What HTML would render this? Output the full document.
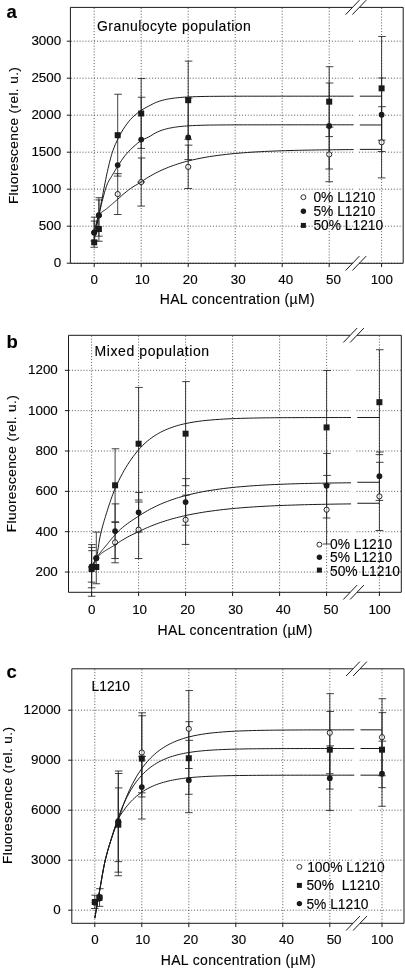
<!DOCTYPE html>
<html><head><meta charset="utf-8"><title>Figure</title>
<style>
html,body{margin:0;padding:0;background:#fff;}
body{width:405px;height:970px;overflow:hidden;}
svg{display:block;will-change:transform;font-family:"Liberation Sans",sans-serif;fill:#1a1a1a;}
text{fill:#000;stroke:#000;stroke-width:0.12px;}
.g{stroke:#444;stroke-width:0.9;stroke-dasharray:1 1.9;fill:none;}
.f{stroke:#1a1a1a;stroke-width:1;fill:none;}
.c{stroke:#1a1a1a;stroke-width:1;fill:none;}
.e{stroke:#222;stroke-width:0.85;fill:none;}
.t{font-size:13.4px;}
.l{font-size:14.0px;}
.k{font-size:13.8px;}
.y{font-size:13.6px;}
.p{font-size:18.5px;font-weight:bold;}
</style></head><body>
<svg width="405" height="970" viewBox="0 0 405 970">
<rect width="405" height="970" fill="#fff"/>
<g>
<path d="M70.90 263.20H353.50M359.00 263.20H402.70" class="g"/>
<path d="M70.90 226.20H353.50M359.00 226.20H402.70" class="g"/>
<path d="M70.90 189.20H353.50M359.00 189.20H402.70" class="g"/>
<path d="M70.90 152.20H353.50M359.00 152.20H402.70" class="g"/>
<path d="M70.90 115.20H353.50M359.00 115.20H402.70" class="g"/>
<path d="M70.90 78.20H353.50M359.00 78.20H402.70" class="g"/>
<path d="M70.90 41.20H353.50M359.00 41.20H402.70" class="g"/>
<path d="M94.20 7.90V262.80" class="g"/>
<path d="M141.20 7.90V262.80" class="g"/>
<path d="M188.20 7.90V262.80" class="g"/>
<path d="M235.20 7.90V262.80" class="g"/>
<path d="M282.20 7.90V262.80" class="g"/>
<path d="M329.20 7.90V262.80" class="g"/>
<path d="M381.60 7.90V262.80" class="g"/>
<path d="M352.50 7.40H70.40V263.30H352.50M359.30 7.40H403.20V263.30H359.30" class="f"/>
<path d="M66.80 263.20H70.40M66.80 226.20H70.40M66.80 189.20H70.40M66.80 152.20H70.40M66.80 115.20H70.40M66.80 78.20H70.40M66.80 41.20H70.40M94.20 263.30V267.10M141.20 263.30V267.10M188.20 263.30V267.10M235.20 263.30V267.10M282.20 263.30V267.10M329.20 263.30V267.10M381.60 263.30V267.10" class="f"/>
<path d="M345.60 14.60L359.40 0.20M352.40 14.60L366.20 0.20M345.60 270.50L359.40 256.10M352.40 270.50L366.20 256.10" class="f"/>
<path d="M94.20 217.17V247.29M90.80 217.17h7.6M90.40 247.29h7.6M94.20 221.09V241.00M90.80 221.09h7.6M90.40 241.00h7.6M98.90 197.71V236.19M95.50 197.71h7.6M95.10 236.19h7.6M98.90 199.93V241.22M95.50 199.93h7.6M95.10 241.22h7.6M117.70 94.26V176.10M114.30 94.26h7.6M113.90 176.10h7.6M117.70 173.66V214.51M114.30 173.66h7.6M113.90 214.51h7.6M141.20 78.57V148.43M137.80 78.57h7.6M137.40 148.43h7.6M141.20 97.22V182.02M137.80 97.22h7.6M137.40 182.02h7.6M141.20 157.97V206.07M137.80 157.97h7.6M137.40 206.07h7.6M188.20 61.11V139.25M184.80 61.11h7.6M184.40 139.25h7.6M188.20 145.17V188.53M184.80 145.17h7.6M184.40 188.53h7.6M188.20 98.11V159.60M184.80 98.11h7.6M184.40 159.60h7.6M329.20 66.73V136.59M325.80 66.73h7.6M325.40 136.59h7.6M329.20 83.01V169.00M325.80 83.01h7.6M325.40 169.00h7.6M329.20 127.11V181.73M325.80 127.11h7.6M325.40 181.73h7.6M381.60 36.46V140.21M378.20 36.46h7.6M377.80 140.21h7.6M381.60 77.98V151.53M378.20 77.98h7.6M377.80 151.53h7.6M381.60 106.69V177.88M378.20 106.69h7.6M377.80 177.88h7.6" class="e"/>
<circle cx="94.20" cy="232.71" r="2.6" fill="#fff" fill-opacity="0.6" stroke="#1a1a1a" stroke-width="0.95"/>
<circle cx="98.90" cy="215.47" r="2.6" fill="#fff" fill-opacity="0.6" stroke="#1a1a1a" stroke-width="0.95"/>
<circle cx="117.70" cy="194.08" r="2.6" fill="#fff" fill-opacity="0.6" stroke="#1a1a1a" stroke-width="0.95"/>
<circle cx="141.20" cy="182.02" r="2.6" fill="#fff" fill-opacity="0.6" stroke="#1a1a1a" stroke-width="0.95"/>
<circle cx="188.20" cy="166.85" r="2.6" fill="#fff" fill-opacity="0.6" stroke="#1a1a1a" stroke-width="0.95"/>
<circle cx="329.20" cy="154.42" r="2.6" fill="#fff" fill-opacity="0.6" stroke="#1a1a1a" stroke-width="0.95"/>
<circle cx="381.60" cy="142.28" r="2.6" fill="#fff" fill-opacity="0.6" stroke="#1a1a1a" stroke-width="0.95"/>
<path d="M94.20 241.00 L94.80 237.63 L95.41 234.28 L96.01 230.95 L96.61 227.63 L97.21 224.33 L97.82 221.05 L98.42 217.78 L99.02 214.52 L99.62 211.28 L100.23 208.05 L100.83 204.84 L101.43 201.66 L102.03 198.50 L102.64 195.38 L103.24 192.24 L103.84 189.09 L104.44 185.95 L105.05 182.84 L105.65 179.80 L106.25 176.84 L106.85 174.00 L107.46 171.30 L108.06 168.67 L108.66 166.09 L109.26 163.56 L109.87 161.11 L110.47 158.76 L111.07 156.54 L111.67 154.46 L112.28 152.54 L112.88 150.78 L113.48 149.12 L114.08 147.54 L114.69 146.05 L115.29 144.62 L115.89 143.25 L116.49 141.93 L117.10 140.65 L117.70 139.40 L119.51 135.82 L121.32 132.51 L123.12 129.47 L124.93 126.71 L126.74 124.15 L128.55 121.78 L130.35 119.63 L132.16 117.71 L133.97 116.00 L135.78 114.42 L137.58 112.97 L139.39 111.63 L141.20 110.39 L143.01 109.25 L144.82 108.20 L146.62 107.21 L148.43 106.25 L150.24 105.30 L152.05 104.33 L153.85 103.40 L155.66 102.58 L157.47 101.87 L159.28 101.24 L161.08 100.68 L162.89 100.18 L164.70 99.73 L166.51 99.34 L168.32 98.98 L170.12 98.68 L171.93 98.41 L173.74 98.17 L175.55 97.94 L177.35 97.74 L179.16 97.57 L180.97 97.42 L182.78 97.28 L184.58 97.15 L186.39 97.05 L188.20 96.95 L192.44 96.77 L196.68 96.62 L200.93 96.52 L205.17 96.44 L209.41 96.37 L213.65 96.33 L217.89 96.30 L222.14 96.27 L226.38 96.25 L230.62 96.23 L234.86 96.22 L239.10 96.21 L243.35 96.20 L247.59 96.20 L251.83 96.19 L256.07 96.19 L260.31 96.19 L264.56 96.19 L268.80 96.19 L273.04 96.19 L277.28 96.18 L281.53 96.18 L285.77 96.18 L290.01 96.18 L294.25 96.18 L298.49 96.18 L302.74 96.18 L306.98 96.18 L311.22 96.18 L315.46 96.18 L319.70 96.18 L323.95 96.18 L328.19 96.18 L332.43 96.18 L336.67 96.18 L340.91 96.18 L345.16 96.18 L349.40 96.18 L353.64 96.18M359.80 96.18H381.60" class="c"/>
<path d="M94.20 232.71 L94.80 230.61 L95.41 228.47 L96.01 226.28 L96.61 224.04 L97.21 221.76 L97.82 219.44 L98.42 217.08 L99.02 214.69 L99.62 212.16 L100.23 209.52 L100.83 206.84 L101.43 204.21 L102.03 201.70 L102.64 199.39 L103.24 197.14 L103.84 194.92 L104.44 192.74 L105.05 190.65 L105.65 188.67 L106.25 186.83 L106.85 185.16 L107.46 183.69 L108.06 182.39 L108.66 181.21 L109.26 180.13 L109.87 179.12 L110.47 178.16 L111.07 177.20 L111.67 176.25 L112.28 175.25 L112.88 174.22 L113.48 173.20 L114.08 172.18 L114.69 171.16 L115.29 170.15 L115.89 169.16 L116.49 168.17 L117.10 167.21 L117.70 166.26 L119.51 163.45 L121.32 160.71 L123.12 158.12 L124.93 155.77 L126.74 153.61 L128.55 151.60 L130.35 149.73 L132.16 147.98 L133.97 146.32 L135.78 144.72 L137.58 143.23 L139.39 141.86 L141.20 140.66 L143.01 139.64 L144.82 138.76 L146.62 137.94 L148.43 137.10 L150.24 136.15 L152.05 135.02 L153.85 133.85 L155.66 132.84 L157.47 131.97 L159.28 131.20 L161.08 130.51 L162.89 129.90 L164.70 129.35 L166.51 128.86 L168.32 128.42 L170.12 128.05 L171.93 127.71 L173.74 127.39 L175.55 127.11 L177.35 126.86 L179.16 126.64 L180.97 126.45 L182.78 126.27 L184.58 126.11 L186.39 125.97 L188.20 125.85 L192.44 125.61 L196.68 125.42 L200.93 125.28 L205.17 125.17 L209.41 125.09 L213.65 125.03 L217.89 124.99 L222.14 124.95 L226.38 124.91 L230.62 124.89 L234.86 124.87 L239.10 124.86 L243.35 124.85 L247.59 124.84 L251.83 124.84 L256.07 124.83 L260.31 124.83 L264.56 124.83 L268.80 124.83 L273.04 124.82 L277.28 124.82 L281.53 124.82 L285.77 124.82 L290.01 124.82 L294.25 124.82 L298.49 124.82 L302.74 124.82 L306.98 124.82 L311.22 124.82 L315.46 124.82 L319.70 124.82 L323.95 124.82 L328.19 124.82 L332.43 124.82 L336.67 124.82 L340.91 124.82 L345.16 124.82 L349.40 124.82 L353.64 124.82M359.80 124.97H381.60" class="c"/>
<path d="M94.20 232.71 L94.80 229.80 L95.41 226.95 L96.01 224.22 L96.61 221.70 L97.21 219.45 L97.82 217.53 L98.42 216.03 L99.02 215.00 L99.62 214.22 L100.23 213.53 L100.83 212.92 L101.43 212.39 L102.03 211.92 L102.64 211.49 L103.24 211.09 L103.84 210.70 L104.44 210.32 L105.05 209.92 L105.65 209.49 L106.25 209.02 L106.85 208.52 L107.46 208.01 L108.06 207.50 L108.66 206.99 L109.26 206.48 L109.87 205.97 L110.47 205.46 L111.07 204.95 L111.67 204.44 L112.28 203.93 L112.88 203.41 L113.48 202.90 L114.08 202.38 L114.69 201.87 L115.29 201.35 L115.89 200.83 L116.49 200.31 L117.10 199.79 L117.70 199.26 L119.51 197.65 L121.32 196.00 L123.12 194.39 L124.93 192.86 L126.74 191.42 L128.55 190.03 L130.35 188.70 L132.16 187.44 L133.97 186.28 L135.78 185.20 L137.58 184.15 L139.39 183.08 L141.20 181.95 L143.01 180.71 L144.82 179.43 L146.62 178.24 L148.43 177.12 L150.24 176.05 L152.05 175.02 L153.85 174.02 L155.66 173.07 L157.47 172.15 L159.28 171.27 L161.08 170.42 L162.89 169.60 L164.70 168.82 L166.51 168.06 L168.32 167.33 L170.12 166.65 L171.93 165.98 L173.74 165.33 L175.55 164.71 L177.35 164.11 L179.16 163.54 L180.97 162.99 L182.78 162.45 L184.58 161.94 L186.39 161.45 L188.20 160.99 L192.44 159.95 L196.68 159.01 L200.93 158.15 L205.17 157.35 L209.41 156.64 L213.65 156.01 L217.89 155.42 L222.14 154.88 L226.38 154.37 L230.62 153.91 L234.86 153.50 L239.10 153.13 L243.35 152.79 L247.59 152.47 L251.83 152.18 L256.07 151.92 L260.31 151.69 L264.56 151.48 L268.80 151.28 L273.04 151.10 L277.28 150.93 L281.53 150.78 L285.77 150.65 L290.01 150.53 L294.25 150.41 L298.49 150.31 L302.74 150.21 L306.98 150.13 L311.22 150.05 L315.46 149.98 L319.70 149.91 L323.95 149.85 L328.19 149.80 L332.43 149.75 L336.67 149.71 L340.91 149.66 L345.16 149.62 L349.40 149.59 L353.64 149.56M359.80 149.39H381.60" class="c"/>
<circle cx="94.20" cy="232.49" r="2.9" fill="#1a1a1a"/>
<circle cx="98.90" cy="215.17" r="2.9" fill="#1a1a1a"/>
<circle cx="117.70" cy="165.08" r="2.9" fill="#1a1a1a"/>
<circle cx="141.20" cy="139.62" r="2.9" fill="#1a1a1a"/>
<circle cx="188.20" cy="137.40" r="2.9" fill="#1a1a1a"/>
<circle cx="329.20" cy="126.00" r="2.9" fill="#1a1a1a"/>
<circle cx="381.60" cy="114.76" r="2.9" fill="#1a1a1a"/>
<rect x="91.20" y="239.33" width="6" height="6" fill="#1a1a1a"/>
<rect x="95.90" y="226.01" width="6" height="6" fill="#1a1a1a"/>
<rect x="114.70" y="132.18" width="6" height="6" fill="#1a1a1a"/>
<rect x="138.20" y="110.50" width="6" height="6" fill="#1a1a1a"/>
<rect x="185.20" y="97.18" width="6" height="6" fill="#1a1a1a"/>
<rect x="326.20" y="98.66" width="6" height="6" fill="#1a1a1a"/>
<rect x="378.60" y="85.34" width="6" height="6" fill="#1a1a1a"/>
<text x="61.20" y="267.30" text-anchor="end" class="t">0</text>
<text x="61.20" y="230.30" text-anchor="end" class="t">500</text>
<text x="61.20" y="193.30" text-anchor="end" class="t">1000</text>
<text x="61.20" y="156.30" text-anchor="end" class="t">1500</text>
<text x="61.20" y="119.30" text-anchor="end" class="t">2000</text>
<text x="61.20" y="82.30" text-anchor="end" class="t">2500</text>
<text x="61.20" y="45.30" text-anchor="end" class="t">3000</text>
<text x="94.30" y="283.50" text-anchor="middle" class="t">0</text>
<text x="142.20" y="283.50" text-anchor="middle" class="t">10</text>
<text x="190.20" y="283.50" text-anchor="middle" class="t">20</text>
<text x="238.20" y="283.50" text-anchor="middle" class="t">30</text>
<text x="285.80" y="283.50" text-anchor="middle" class="t">40</text>
<text x="333.50" y="283.50" text-anchor="middle" class="t">50</text>
<text x="381.80" y="283.50" text-anchor="middle" class="t">100</text>
<text x="159.70" y="304.20" textLength="155" class="l">HAL concentration (µM)</text>
<text transform="translate(18.00 204.10) rotate(-90)" textLength="137" class="y">Fluorescence (rel. u.)</text>
<text x="6.4" y="17.9" class="p">a</text>
<text x="96.9" y="31.1" textLength="154" class="l">Granulocyte population</text>
<circle cx="303.40" cy="197.20" r="2.45" fill="#fff" stroke="#1a1a1a" stroke-width="0.9"/>
<text x="313.40" y="201.80" class="k">0% L1210</text>
<circle cx="303.40" cy="211.20" r="2.7" fill="#1a1a1a"/>
<text x="313.40" y="215.80" class="k">5% L1210</text>
<rect x="300.90" y="222.90" width="5" height="5" fill="#1a1a1a"/>
<text x="313.40" y="229.90" class="k">50% L1210</text>
</g>
<g>
<path d="M69.00 572.05H350.50M356.50 572.05H400.80" class="g"/>
<path d="M69.00 531.70H350.50M356.50 531.70H400.80" class="g"/>
<path d="M69.00 491.35H350.50M356.50 491.35H400.80" class="g"/>
<path d="M69.00 451.00H350.50M356.50 451.00H400.80" class="g"/>
<path d="M69.00 410.65H350.50M356.50 410.65H400.80" class="g"/>
<path d="M69.00 370.30H350.50M356.50 370.30H400.80" class="g"/>
<path d="M91.60 335.80V591.80" class="g"/>
<path d="M138.60 335.80V591.80" class="g"/>
<path d="M185.60 335.80V591.80" class="g"/>
<path d="M232.60 335.80V591.80" class="g"/>
<path d="M279.60 335.80V591.80" class="g"/>
<path d="M326.60 335.80V591.80" class="g"/>
<path d="M379.40 335.80V591.80" class="g"/>
<path d="M350.20 335.30H68.50V592.30H350.20M357.00 335.30H401.30V592.30H357.00" class="f"/>
<path d="M64.90 572.05H68.50M64.90 531.70H68.50M64.90 491.35H68.50M64.90 451.00H68.50M64.90 410.65H68.50M64.90 370.30H68.50M91.60 592.30V596.10M138.60 592.30V596.10M185.60 592.30V596.10M232.60 592.30V596.10M279.60 592.30V596.10M326.60 592.30V596.10M379.40 592.30V596.10" class="f"/>
<path d="M343.30 342.50L357.10 328.10M350.10 342.50L363.90 328.10M343.30 599.50L357.10 585.10M350.10 599.50L363.90 585.10" class="f"/>
<path d="M91.60 544.61V587.79M88.20 544.61h7.6M87.80 587.79h7.6M91.60 547.44V596.26M88.20 547.44h7.6M87.80 596.26h7.6M91.60 550.66V582.14M88.20 550.66h7.6M87.80 582.14h7.6M96.30 532.10V583.75M92.90 532.10h7.6M92.50 583.75h7.6M115.10 448.78V521.81M111.70 448.78h7.6M111.30 521.81h7.6M115.10 503.86V558.53M111.70 503.86h7.6M111.30 558.53h7.6M115.10 522.42V562.77M111.70 522.42h7.6M111.30 562.77h7.6M138.60 387.45V500.03M135.20 387.45h7.6M134.80 500.03h7.6M138.60 492.56V532.10M135.20 492.56h7.6M134.80 532.10h7.6M138.60 502.04V558.53M135.20 502.04h7.6M134.80 558.53h7.6M185.60 381.60V485.70M182.20 381.60h7.6M181.80 485.70h7.6M185.60 478.64V525.24M182.20 478.64h7.6M181.80 525.24h7.6M185.60 495.18V544.41M182.20 495.18h7.6M181.80 544.41h7.6M326.60 370.50V484.29M323.20 370.50h7.6M322.80 484.29h7.6M326.60 453.42V517.98M323.20 453.42h7.6M322.80 517.98h7.6M326.60 475.41V544.01M323.20 475.41h7.6M322.80 544.01h7.6M379.40 349.72V454.63M376.00 349.72h7.6M375.60 454.63h7.6M379.40 452.01V500.43M376.00 452.01h7.6M375.60 500.43h7.6M379.40 462.30V530.49M376.00 462.30h7.6M375.60 530.49h7.6" class="e"/>
<circle cx="91.60" cy="567.01" r="2.6" fill="#fff" fill-opacity="0.6" stroke="#1a1a1a" stroke-width="0.95"/>
<circle cx="96.30" cy="557.93" r="2.6" fill="#fff" fill-opacity="0.6" stroke="#1a1a1a" stroke-width="0.95"/>
<circle cx="115.10" cy="542.39" r="2.6" fill="#fff" fill-opacity="0.6" stroke="#1a1a1a" stroke-width="0.95"/>
<circle cx="138.60" cy="529.68" r="2.6" fill="#fff" fill-opacity="0.6" stroke="#1a1a1a" stroke-width="0.95"/>
<circle cx="185.60" cy="519.80" r="2.6" fill="#fff" fill-opacity="0.6" stroke="#1a1a1a" stroke-width="0.95"/>
<circle cx="326.60" cy="509.71" r="2.6" fill="#fff" fill-opacity="0.6" stroke="#1a1a1a" stroke-width="0.95"/>
<circle cx="379.40" cy="496.39" r="2.6" fill="#fff" fill-opacity="0.6" stroke="#1a1a1a" stroke-width="0.95"/>
<path d="M91.60 569.02 L92.20 568.61 L92.81 567.82 L93.41 566.69 L94.01 565.28 L94.61 563.65 L95.22 561.84 L95.82 559.92 L96.42 557.91 L97.02 555.17 L97.63 551.67 L98.23 547.73 L98.83 543.72 L99.43 539.97 L100.04 536.84 L100.64 534.17 L101.24 531.63 L101.84 529.22 L102.45 526.91 L103.05 524.69 L103.65 522.55 L104.25 520.48 L104.86 518.47 L105.46 516.50 L106.06 514.56 L106.66 512.64 L107.27 510.72 L107.87 508.81 L108.47 506.93 L109.07 505.08 L109.68 503.26 L110.28 501.46 L110.88 499.70 L111.48 497.98 L112.09 496.30 L112.69 494.65 L113.29 493.05 L113.89 491.49 L114.50 489.99 L115.10 488.53 L116.91 484.42 L118.72 480.64 L120.52 477.10 L122.33 473.71 L124.14 470.45 L125.95 467.35 L127.75 464.42 L129.56 461.67 L131.37 459.07 L133.18 456.58 L134.98 454.21 L136.79 451.94 L138.60 449.79 L140.41 447.77 L142.22 445.89 L144.02 444.12 L145.83 442.46 L147.64 440.90 L149.45 439.45 L151.25 438.08 L153.06 436.80 L154.87 435.59 L156.68 434.47 L158.48 433.41 L160.29 432.42 L162.10 431.49 L163.91 430.61 L165.72 429.79 L167.52 429.04 L169.33 428.33 L171.14 427.65 L172.95 427.01 L174.75 426.42 L176.56 425.86 L178.37 425.34 L180.18 424.85 L181.98 424.39 L183.79 423.96 L185.60 423.56 L189.84 422.72 L194.08 421.98 L198.33 421.36 L202.57 420.81 L206.81 420.34 L211.05 419.97 L215.29 419.64 L219.54 419.34 L223.78 419.07 L228.02 418.84 L232.26 418.66 L236.50 418.50 L240.75 418.36 L244.99 418.24 L249.23 418.14 L253.47 418.05 L257.71 417.97 L261.96 417.91 L266.20 417.85 L270.44 417.80 L274.68 417.76 L278.93 417.73 L283.17 417.70 L287.41 417.67 L291.65 417.65 L295.89 417.63 L300.14 417.61 L304.38 417.60 L308.62 417.59 L312.86 417.57 L317.10 417.57 L321.35 417.56 L325.59 417.55 L329.83 417.55 L334.07 417.54 L338.31 417.54 L342.56 417.53 L346.80 417.53 L351.04 417.53M357.30 417.51H379.40" class="c"/>
<path d="M91.60 568.02 L92.20 566.64 L92.81 565.28 L93.41 563.95 L94.01 562.66 L94.61 561.43 L95.22 560.25 L95.82 559.15 L96.42 558.13 L97.02 557.17 L97.63 556.25 L98.23 555.37 L98.83 554.52 L99.43 553.69 L100.04 552.89 L100.64 552.12 L101.24 551.36 L101.84 550.62 L102.45 549.89 L103.05 549.17 L103.65 548.46 L104.25 547.75 L104.86 547.04 L105.46 546.32 L106.06 545.60 L106.66 544.87 L107.27 544.13 L107.87 543.38 L108.47 542.63 L109.07 541.88 L109.68 541.12 L110.28 540.38 L110.88 539.64 L111.48 538.90 L112.09 538.18 L112.69 537.46 L113.29 536.75 L113.89 536.06 L114.50 535.39 L115.10 534.73 L116.91 532.81 L118.72 530.98 L120.52 529.27 L122.33 527.67 L124.14 526.18 L125.95 524.78 L127.75 523.43 L129.56 522.13 L131.37 520.88 L133.18 519.68 L134.98 518.50 L136.79 517.34 L138.60 516.17 L140.41 514.98 L142.22 513.82 L144.02 512.70 L145.83 511.63 L147.64 510.59 L149.45 509.59 L151.25 508.63 L153.06 507.69 L154.87 506.80 L156.68 505.93 L158.48 505.10 L160.29 504.29 L162.10 503.51 L163.91 502.76 L165.72 502.03 L167.52 501.35 L169.33 500.68 L171.14 500.03 L172.95 499.40 L174.75 498.79 L176.56 498.20 L178.37 497.64 L180.18 497.10 L181.98 496.57 L183.79 496.07 L185.60 495.58 L189.84 494.51 L194.08 493.52 L198.33 492.61 L202.57 491.76 L206.81 490.99 L211.05 490.31 L215.29 489.67 L219.54 489.07 L223.78 488.51 L228.02 488.00 L232.26 487.53 L236.50 487.11 L240.75 486.72 L244.99 486.36 L249.23 486.03 L253.47 485.72 L257.71 485.45 L261.96 485.19 L266.20 484.95 L270.44 484.73 L274.68 484.53 L278.93 484.35 L283.17 484.19 L287.41 484.03 L291.65 483.89 L295.89 483.76 L300.14 483.64 L304.38 483.53 L308.62 483.43 L312.86 483.33 L317.10 483.25 L321.35 483.17 L325.59 483.09 L329.83 483.03 L334.07 482.97 L338.31 482.91 L342.56 482.86 L346.80 482.81 L351.04 482.77M357.30 482.27H379.40" class="c"/>
<path d="M91.60 567.61 L92.20 566.25 L92.81 564.88 L93.41 563.52 L94.01 562.22 L94.61 561.00 L95.22 559.90 L95.82 558.96 L96.42 558.19 L97.02 557.51 L97.63 556.87 L98.23 556.25 L98.83 555.66 L99.43 555.09 L100.04 554.56 L100.64 554.04 L101.24 553.55 L101.84 553.07 L102.45 552.62 L103.05 552.18 L103.65 551.76 L104.25 551.36 L104.86 550.96 L105.46 550.58 L106.06 550.21 L106.66 549.84 L107.27 549.49 L107.87 549.14 L108.47 548.79 L109.07 548.45 L109.68 548.10 L110.28 547.76 L110.88 547.41 L111.48 547.06 L112.09 546.71 L112.69 546.35 L113.29 545.98 L113.89 545.60 L114.50 545.21 L115.10 544.81 L116.91 543.60 L118.72 542.42 L120.52 541.27 L122.33 540.15 L124.14 539.05 L125.95 537.97 L127.75 536.94 L129.56 535.98 L131.37 535.08 L133.18 534.22 L134.98 533.39 L136.79 532.55 L138.60 531.70 L140.41 530.81 L142.22 529.93 L144.02 529.08 L145.83 528.26 L147.64 527.46 L149.45 526.70 L151.25 525.95 L153.06 525.23 L154.87 524.54 L156.68 523.86 L158.48 523.21 L160.29 522.57 L162.10 521.96 L163.91 521.37 L165.72 520.79 L167.52 520.24 L169.33 519.70 L171.14 519.18 L172.95 518.67 L174.75 518.18 L176.56 517.71 L178.37 517.25 L180.18 516.80 L181.98 516.37 L183.79 515.96 L185.60 515.56 L189.84 514.66 L194.08 513.83 L198.33 513.06 L202.57 512.34 L206.81 511.67 L211.05 511.08 L215.29 510.52 L219.54 509.98 L223.78 509.49 L228.02 509.03 L232.26 508.61 L236.50 508.22 L240.75 507.86 L244.99 507.52 L249.23 507.21 L253.47 506.92 L257.71 506.65 L261.96 506.41 L266.20 506.18 L270.44 505.96 L274.68 505.76 L278.93 505.58 L283.17 505.41 L287.41 505.26 L291.65 505.11 L295.89 504.97 L300.14 504.85 L304.38 504.73 L308.62 504.63 L312.86 504.53 L317.10 504.43 L321.35 504.35 L325.59 504.27 L329.83 504.19 L334.07 504.12 L338.31 504.06 L342.56 504.00 L346.80 503.94 L351.04 503.90M357.30 503.25H379.40" class="c"/>
<circle cx="91.60" cy="566.40" r="2.9" fill="#1a1a1a"/>
<circle cx="96.30" cy="558.33" r="2.9" fill="#1a1a1a"/>
<circle cx="115.10" cy="531.09" r="2.9" fill="#1a1a1a"/>
<circle cx="138.60" cy="512.33" r="2.9" fill="#1a1a1a"/>
<circle cx="185.60" cy="502.04" r="2.9" fill="#1a1a1a"/>
<circle cx="326.60" cy="485.70" r="2.9" fill="#1a1a1a"/>
<circle cx="379.40" cy="476.22" r="2.9" fill="#1a1a1a"/>
<rect x="88.60" y="566.02" width="6" height="6" fill="#1a1a1a"/>
<rect x="93.30" y="564.01" width="6" height="6" fill="#1a1a1a"/>
<rect x="112.10" y="482.30" width="6" height="6" fill="#1a1a1a"/>
<rect x="135.60" y="440.74" width="6" height="6" fill="#1a1a1a"/>
<rect x="182.60" y="430.65" width="6" height="6" fill="#1a1a1a"/>
<rect x="323.60" y="424.40" width="6" height="6" fill="#1a1a1a"/>
<rect x="376.40" y="399.18" width="6" height="6" fill="#1a1a1a"/>
<text x="57.80" y="576.15" text-anchor="end" class="t">200</text>
<text x="57.80" y="535.80" text-anchor="end" class="t">400</text>
<text x="57.80" y="495.45" text-anchor="end" class="t">600</text>
<text x="57.80" y="455.10" text-anchor="end" class="t">800</text>
<text x="57.80" y="414.75" text-anchor="end" class="t">1000</text>
<text x="57.80" y="374.40" text-anchor="end" class="t">1200</text>
<text x="91.70" y="613.70" text-anchor="middle" class="t">0</text>
<text x="139.60" y="613.70" text-anchor="middle" class="t">10</text>
<text x="187.60" y="613.70" text-anchor="middle" class="t">20</text>
<text x="235.60" y="613.70" text-anchor="middle" class="t">30</text>
<text x="283.20" y="613.70" text-anchor="middle" class="t">40</text>
<text x="330.90" y="613.70" text-anchor="middle" class="t">50</text>
<text x="379.60" y="613.70" text-anchor="middle" class="t">100</text>
<text x="157.50" y="634.50" textLength="155" class="l">HAL concentration (µM)</text>
<text transform="translate(16.30 532.20) rotate(-90)" textLength="137" class="y">Fluorescence (rel. u.)</text>
<text x="6.4" y="348.1" class="p">b</text>
<text x="94.6" y="356.3" textLength="114.5" class="l">Mixed population</text>
<circle cx="319.40" cy="544.60" r="2.45" fill="#fff" stroke="#1a1a1a" stroke-width="0.9"/>
<text x="330.00" y="549.20" class="k">0% L1210</text>
<circle cx="319.40" cy="557.20" r="2.7" fill="#1a1a1a"/>
<text x="330.00" y="562.20" class="k">5% L1210</text>
<rect x="316.90" y="567.60" width="5" height="5" fill="#1a1a1a"/>
<text x="330.00" y="575.50" class="k">50% L1210</text>
</g>
<g>
<path d="M72.30 910.20H353.70M359.70 910.20H403.50" class="g"/>
<path d="M72.30 860.20H353.70M359.70 860.20H403.50" class="g"/>
<path d="M72.30 810.20H353.70M359.70 810.20H403.50" class="g"/>
<path d="M72.30 760.20H353.70M359.70 760.20H403.50" class="g"/>
<path d="M72.30 710.20H353.70M359.70 710.20H403.50" class="g"/>
<path d="M94.80 669.30V922.80" class="g"/>
<path d="M141.80 669.30V922.80" class="g"/>
<path d="M188.80 669.30V922.80" class="g"/>
<path d="M235.80 669.30V922.80" class="g"/>
<path d="M282.80 669.30V922.80" class="g"/>
<path d="M329.80 669.30V922.80" class="g"/>
<path d="M382.00 669.30V922.80" class="g"/>
<path d="M353.00 668.80H71.80V923.30H353.00M360.00 668.80H404.00V923.30H360.00" class="f"/>
<path d="M68.20 910.20H71.80M68.20 860.20H71.80M68.20 810.20H71.80M68.20 760.20H71.80M68.20 710.20H71.80M94.80 923.30V927.10M141.80 923.30V927.10M188.80 923.30V927.10M235.80 923.30V927.10M282.80 923.30V927.10M329.80 923.30V927.10M382.00 923.30V927.10" class="f"/>
<path d="M346.10 676.00L359.90 661.60M353.10 676.00L366.90 661.60M346.10 930.50L359.90 916.10M353.10 930.50L366.90 916.10" class="f"/>
<path d="M94.80 895.20V908.53M91.40 895.20h7.6M91.00 908.53h7.6M99.50 888.72V906.37M96.10 888.72h7.6M95.70 906.37h7.6M118.30 771.00V875.75M114.90 771.00h7.6M114.50 875.75h7.6M118.30 773.53V872.18M114.90 773.53h7.6M114.50 872.18h7.6M118.30 787.90V861.62M114.90 787.90h7.6M114.50 861.62h7.6M141.80 712.80V792.80M138.40 712.80h7.6M138.00 792.80h7.6M141.80 715.75V796.93M138.40 715.75h7.6M138.00 796.93h7.6M141.80 756.37V819.02M138.40 756.37h7.6M138.00 819.02h7.6M188.80 690.57V768.50M185.40 690.57h7.6M185.00 768.50h7.6M188.80 721.68V794.27M185.40 721.68h7.6M185.00 794.27h7.6M188.80 740.35V812.65M185.40 740.35h7.6M185.00 812.65h7.6M329.80 693.68V773.70M326.40 693.68h7.6M326.00 773.70h7.6M329.80 711.47V789.08M326.40 711.47h7.6M326.00 789.08h7.6M329.80 745.85V810.42M326.40 745.85h7.6M326.00 810.42h7.6M382.00 698.72V775.75M378.60 698.72h7.6M378.20 775.75h7.6M382.00 712.65V787.60M378.60 712.65h7.6M378.20 787.60h7.6M382.00 741.13V806.27M378.60 741.13h7.6M378.20 806.27h7.6" class="e"/>
<circle cx="94.80" cy="902.70" r="2.6" fill="#fff" fill-opacity="0.6" stroke="#1a1a1a" stroke-width="0.95"/>
<circle cx="99.50" cy="896.87" r="2.6" fill="#fff" fill-opacity="0.6" stroke="#1a1a1a" stroke-width="0.95"/>
<circle cx="118.30" cy="821.87" r="2.6" fill="#fff" fill-opacity="0.6" stroke="#1a1a1a" stroke-width="0.95"/>
<circle cx="141.80" cy="752.52" r="2.6" fill="#fff" fill-opacity="0.6" stroke="#1a1a1a" stroke-width="0.95"/>
<circle cx="188.80" cy="728.83" r="2.6" fill="#fff" fill-opacity="0.6" stroke="#1a1a1a" stroke-width="0.95"/>
<circle cx="329.80" cy="732.80" r="2.6" fill="#fff" fill-opacity="0.6" stroke="#1a1a1a" stroke-width="0.95"/>
<circle cx="382.00" cy="737.23" r="2.6" fill="#fff" fill-opacity="0.6" stroke="#1a1a1a" stroke-width="0.95"/>
<path d="M94.80 918.10 L95.40 914.61 L96.01 911.14 L96.61 907.69 L97.21 904.25 L97.81 900.83 L98.42 897.43 L99.02 894.06 L99.62 890.69 L100.22 887.27 L100.83 883.78 L101.43 880.27 L102.03 876.78 L102.63 873.36 L103.24 870.03 L103.84 866.86 L104.44 863.87 L105.04 861.12 L105.65 858.58 L106.25 856.15 L106.85 853.83 L107.45 851.60 L108.06 849.45 L108.66 847.38 L109.26 845.37 L109.86 843.42 L110.47 841.52 L111.07 839.65 L111.67 837.81 L112.27 836.00 L112.88 834.28 L113.48 832.62 L114.08 831.02 L114.68 829.46 L115.29 827.91 L115.89 826.38 L116.49 824.83 L117.09 823.25 L117.70 821.64 L118.30 819.97 L120.11 814.57 L121.92 809.05 L123.72 803.99 L125.53 799.32 L127.34 794.94 L129.15 790.85 L130.95 787.00 L132.76 783.41 L134.57 780.03 L136.38 776.87 L138.18 773.91 L139.99 771.13 L141.80 768.53 L143.61 766.10 L145.42 763.81 L147.22 761.67 L149.03 759.67 L150.84 757.79 L152.65 756.03 L154.45 754.38 L156.26 752.84 L158.07 751.39 L159.88 750.03 L161.68 748.76 L163.49 747.57 L165.30 746.45 L167.11 745.40 L168.92 744.41 L170.72 743.51 L172.53 742.66 L174.34 741.85 L176.15 741.09 L177.95 740.37 L179.76 739.71 L181.57 739.09 L183.38 738.50 L185.18 737.95 L186.99 737.44 L188.80 736.97 L193.04 735.96 L197.28 735.09 L201.53 734.35 L205.77 733.70 L210.01 733.15 L214.25 732.71 L218.49 732.31 L222.74 731.96 L226.98 731.65 L231.22 731.38 L235.46 731.16 L239.70 730.98 L243.95 730.82 L248.19 730.68 L252.43 730.56 L256.67 730.45 L260.91 730.37 L265.16 730.29 L269.40 730.23 L273.64 730.17 L277.88 730.12 L282.13 730.08 L286.37 730.05 L290.61 730.02 L294.85 729.99 L299.09 729.97 L303.34 729.95 L307.58 729.93 L311.82 729.92 L316.06 729.91 L320.30 729.90 L324.55 729.89 L328.79 729.88 L333.03 729.87 L337.27 729.87 L341.51 729.86 L345.76 729.86 L350.00 729.85 L354.24 729.85M360.50 729.83H382.00" class="c"/>
<path d="M94.80 918.10 L95.40 914.61 L96.01 911.14 L96.61 907.69 L97.21 904.25 L97.81 900.83 L98.42 897.43 L99.02 894.06 L99.62 890.69 L100.22 887.27 L100.83 883.78 L101.43 880.27 L102.03 876.78 L102.63 873.36 L103.24 870.03 L103.84 866.86 L104.44 863.87 L105.04 861.12 L105.65 858.58 L106.25 856.19 L106.85 853.91 L107.45 851.72 L108.06 849.63 L108.66 847.60 L109.26 845.61 L109.86 843.66 L110.47 841.73 L111.07 839.80 L111.67 837.85 L112.27 835.88 L112.88 833.92 L113.48 831.97 L114.08 830.03 L114.68 828.12 L115.29 826.23 L115.89 824.38 L116.49 822.56 L117.09 820.77 L117.70 819.03 L118.30 817.34 L120.11 812.51 L121.92 808.00 L123.72 803.83 L125.53 799.94 L127.34 796.32 L129.15 792.97 L130.95 789.84 L132.76 786.94 L134.57 784.23 L136.38 781.72 L138.18 779.39 L139.99 777.22 L141.80 775.20 L143.61 773.32 L145.42 771.58 L147.22 769.96 L149.03 768.45 L150.84 767.05 L152.65 765.75 L154.45 764.53 L156.26 763.41 L158.07 762.36 L159.88 761.38 L161.68 760.48 L163.49 759.64 L165.30 758.86 L167.11 758.12 L168.92 757.44 L170.72 756.83 L172.53 756.25 L174.34 755.71 L176.15 755.19 L177.95 754.72 L179.76 754.28 L181.57 753.88 L183.38 753.50 L185.18 753.14 L186.99 752.82 L188.80 752.52 L193.04 751.89 L197.28 751.35 L201.53 750.91 L205.77 750.52 L210.01 750.20 L214.25 749.95 L218.49 749.73 L222.74 749.54 L226.98 749.37 L231.22 749.23 L235.46 749.11 L239.70 749.02 L243.95 748.94 L248.19 748.87 L252.43 748.81 L256.67 748.76 L260.91 748.72 L265.16 748.69 L269.40 748.66 L273.64 748.63 L277.88 748.61 L282.13 748.59 L286.37 748.58 L290.61 748.57 L294.85 748.56 L299.09 748.55 L303.34 748.54 L307.58 748.53 L311.82 748.53 L316.06 748.52 L320.30 748.52 L324.55 748.52 L328.79 748.51 L333.03 748.51 L337.27 748.51 L341.51 748.51 L345.76 748.51 L350.00 748.51 L354.24 748.51M360.50 748.50H382.00" class="c"/>
<path d="M94.80 918.10 L95.40 914.61 L96.01 911.14 L96.61 907.69 L97.21 904.25 L97.81 900.83 L98.42 897.43 L99.02 894.06 L99.62 890.69 L100.22 887.27 L100.83 883.78 L101.43 880.27 L102.03 876.78 L102.63 873.36 L103.24 870.03 L103.84 866.86 L104.44 863.87 L105.04 861.12 L105.65 858.58 L106.25 856.16 L106.85 853.86 L107.45 851.65 L108.06 849.52 L108.66 847.47 L109.26 845.47 L109.86 843.52 L110.47 841.61 L111.07 839.71 L111.67 837.83 L112.27 835.93 L112.88 834.02 L113.48 832.12 L114.08 830.23 L114.68 828.37 L115.29 826.57 L115.89 824.83 L116.49 823.18 L117.09 821.64 L117.70 820.21 L118.30 818.92 L120.11 815.68 L121.92 812.96 L123.72 810.36 L125.53 807.90 L127.34 805.60 L129.15 803.48 L130.95 801.49 L132.76 799.65 L134.57 797.94 L136.38 796.34 L138.18 794.86 L139.99 793.48 L141.80 792.20 L143.61 791.01 L145.42 789.90 L147.22 788.87 L149.03 787.91 L150.84 787.02 L152.65 786.19 L154.45 785.42 L156.26 784.70 L158.07 784.03 L159.88 783.41 L161.68 782.83 L163.49 782.30 L165.30 781.80 L167.11 781.33 L168.92 780.90 L170.72 780.51 L172.53 780.14 L174.34 779.79 L176.15 779.46 L177.95 779.16 L179.76 778.88 L181.57 778.62 L183.38 778.38 L185.18 778.15 L186.99 777.94 L188.80 777.75 L193.04 777.35 L197.28 777.00 L201.53 776.72 L205.77 776.47 L210.01 776.26 L214.25 776.10 L218.49 775.96 L222.74 775.84 L226.98 775.73 L231.22 775.64 L235.46 775.56 L239.70 775.50 L243.95 775.45 L248.19 775.41 L252.43 775.37 L256.67 775.34 L260.91 775.31 L265.16 775.29 L269.40 775.27 L273.64 775.25 L277.88 775.24 L282.13 775.23 L286.37 775.22 L290.61 775.21 L294.85 775.20 L299.09 775.20 L303.34 775.19 L307.58 775.19 L311.82 775.19 L316.06 775.18 L320.30 775.18 L324.55 775.18 L328.79 775.18 L333.03 775.17 L337.27 775.17 L341.51 775.17 L345.76 775.17 L350.00 775.17 L354.24 775.17M360.50 775.17H382.00" class="c"/>
<rect x="91.80" y="899.05" width="6" height="6" fill="#1a1a1a"/>
<rect x="96.50" y="894.73" width="6" height="6" fill="#1a1a1a"/>
<rect x="115.30" y="821.70" width="6" height="6" fill="#1a1a1a"/>
<rect x="138.80" y="755.57" width="6" height="6" fill="#1a1a1a"/>
<rect x="185.80" y="755.22" width="6" height="6" fill="#1a1a1a"/>
<rect x="326.80" y="746.68" width="6" height="6" fill="#1a1a1a"/>
<rect x="379.00" y="746.68" width="6" height="6" fill="#1a1a1a"/>
<circle cx="94.80" cy="902.05" r="2.9" fill="#1a1a1a"/>
<circle cx="99.50" cy="898.53" r="2.9" fill="#1a1a1a"/>
<circle cx="118.30" cy="821.20" r="2.9" fill="#1a1a1a"/>
<circle cx="141.80" cy="787.08" r="2.9" fill="#1a1a1a"/>
<circle cx="188.80" cy="780.17" r="2.9" fill="#1a1a1a"/>
<circle cx="329.80" cy="778.13" r="2.9" fill="#1a1a1a"/>
<circle cx="382.00" cy="773.70" r="2.9" fill="#1a1a1a"/>
<text x="60.80" y="914.30" text-anchor="end" class="t">0</text>
<text x="60.80" y="864.30" text-anchor="end" class="t">3000</text>
<text x="60.80" y="814.30" text-anchor="end" class="t">6000</text>
<text x="60.80" y="764.30" text-anchor="end" class="t">9000</text>
<text x="60.80" y="714.30" text-anchor="end" class="t">12000</text>
<text x="94.90" y="944.10" text-anchor="middle" class="t">0</text>
<text x="142.80" y="944.10" text-anchor="middle" class="t">10</text>
<text x="190.80" y="944.10" text-anchor="middle" class="t">20</text>
<text x="238.80" y="944.10" text-anchor="middle" class="t">30</text>
<text x="286.40" y="944.10" text-anchor="middle" class="t">40</text>
<text x="334.10" y="944.10" text-anchor="middle" class="t">50</text>
<text x="382.20" y="944.10" text-anchor="middle" class="t">100</text>
<text x="160.70" y="965.10" textLength="155" class="l">HAL concentration (µM)</text>
<text transform="translate(12.00 864.00) rotate(-90)" textLength="137" class="y">Fluorescence (rel. u.)</text>
<text x="6.4" y="677.8" class="p">c</text>
<text x="91.6" y="690.7" class="k">L1210</text>
<circle cx="299.40" cy="866.90" r="2.45" fill="#fff" stroke="#1a1a1a" stroke-width="0.9"/>
<text x="307.20" y="871.80" class="k">100% L1210</text>
<rect x="296.90" y="882.90" width="5" height="5" fill="#1a1a1a"/>
<text x="306.40" y="890.10" class="k">50%  L1210</text>
<circle cx="299.40" cy="903.60" r="2.7" fill="#1a1a1a"/>
<text x="306.40" y="908.60" class="k">5% L1210</text>
</g>
</svg>
</body></html>
